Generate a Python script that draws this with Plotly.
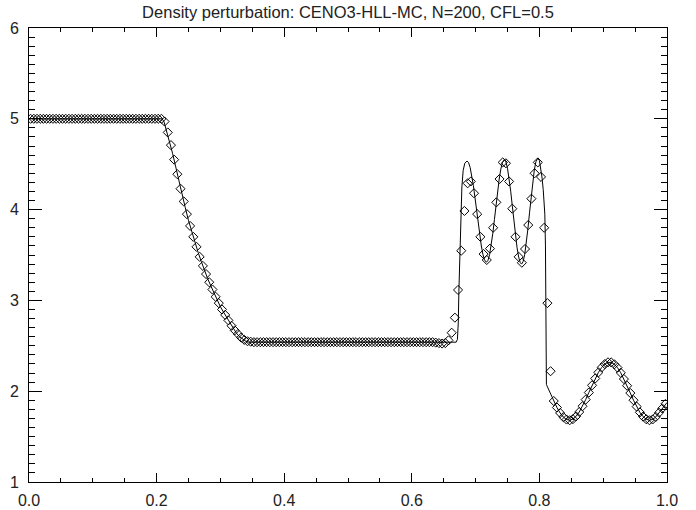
import numpy as np
import plotly.graph_objects as go

title_text = "Density perturbation: CENO3-HLL-MC, N=200, CFL=0.5"
n_cells = 200

# numerical solution (cell values), cells at (i+0.5)/N
rho_num = [
    5.0, 5.0, 5.0, 5.0, 5.0, 5.0, 5.0, 5.0, 5.0, 5.0,
    5.0, 5.0, 5.0, 5.0, 5.0, 5.0, 5.0, 5.0, 5.0, 5.0,
    5.0, 5.0, 5.0, 5.0, 5.0, 5.0, 5.0, 5.0, 5.0, 5.0,
    5.0, 5.0, 5.0, 5.0, 5.0, 5.0, 5.0, 5.0, 5.0, 5.0,
    5.0, 5.0,
    4.97, 4.85, 4.71, 4.55, 4.39, 4.23, 4.09, 3.95, 3.82, 3.70,
    3.59, 3.48, 3.38, 3.29, 3.20, 3.12, 3.04, 2.97, 2.90, 2.84,
    2.78, 2.72, 2.67, 2.63, 2.59, 2.565, 2.55, 2.545,
    2.54, 2.54, 2.54, 2.54, 2.54, 2.54, 2.54, 2.54, 2.54, 2.54,
    2.54, 2.54, 2.54, 2.54, 2.54, 2.54, 2.54, 2.54, 2.54, 2.54,
    2.54, 2.54, 2.54, 2.54, 2.54, 2.54, 2.54, 2.54, 2.54, 2.54,
    2.54, 2.54, 2.54, 2.54, 2.54, 2.54, 2.54, 2.54, 2.54, 2.54,
    2.54, 2.54, 2.54, 2.54, 2.54, 2.54, 2.54, 2.54, 2.54, 2.54,
    2.54, 2.54, 2.54, 2.54, 2.54, 2.54, 2.54, 2.535, 2.53, 2.525,
    2.53,
    2.56, 2.644, 2.81, 3.115, 3.547, 3.985, 4.29, 4.31, 4.18, 3.95,
    3.70, 3.51, 3.445, 3.57, 3.80, 4.08, 4.337, 4.52, 4.51, 4.31,
    4.01, 3.70, 3.48, 3.415, 3.566, 3.83, 4.12, 4.40, 4.52, 4.36,
    3.80, 2.97, 2.22,
    1.892, 1.820, 1.760, 1.715, 1.688, 1.680, 1.692, 1.723, 1.771, 1.834,
    1.907, 1.985, 2.065, 2.140, 2.207, 2.261, 2.299, 2.318, 2.317, 2.296,
    2.259, 2.203, 2.134, 2.060, 1.980, 1.901, 1.830, 1.767, 1.720, 1.691,
    1.680, 1.689, 1.717, 1.763, 1.81, 1.86,
]

# reference (high resolution) solution
x_ref = [
    0.0, 0.2085, 0.2115, 0.2150, 0.2200, 0.2250, 0.2300, 0.2350, 0.2400, 0.2450,
    0.2500, 0.2550, 0.2600, 0.2650, 0.2700, 0.2750, 0.2800, 0.2850, 0.2900, 0.2950,
    0.3000, 0.3050, 0.3100, 0.3150, 0.3200, 0.3250, 0.3300, 0.3350, 0.3400, 0.3450,
    0.40, 0.50, 0.60, 0.650, 0.665, 0.6695,
    0.6715, 0.6728, 0.6738, 0.6752, 0.6768, 0.6785, 0.6805, 0.6830, 0.6865,
    0.689, 0.6915, 0.694, 0.6965, 0.699, 0.7015, 0.704, 0.7065, 0.709, 0.7115, 0.714, 0.717,
    0.7195, 0.722, 0.7245, 0.727, 0.7295, 0.732, 0.7345, 0.737, 0.7395, 0.742, 0.745,
    0.7475, 0.750, 0.7525, 0.755, 0.7575, 0.760, 0.7625, 0.765, 0.7675, 0.770, 0.772,
    0.7745, 0.777, 0.7795, 0.782, 0.7845, 0.787, 0.7895, 0.792, 0.7945, 0.7975,
    0.800, 0.802, 0.804, 0.806, 0.8085, 0.8095, 0.8100, 0.8105, 0.8110, 0.8125,
    0.815, 0.8175, 0.820,
    0.8225, 0.8275, 0.8325, 0.8375, 0.8425, 0.8475, 0.8525, 0.8575, 0.8625, 0.8675,
    0.8725, 0.8775, 0.8825, 0.8875, 0.8925, 0.8975, 0.9025, 0.9075, 0.9125, 0.9175,
    0.9225, 0.9275, 0.9325, 0.9375, 0.9425, 0.9475, 0.9525, 0.9575, 0.9625, 0.9675,
    0.9725, 0.9775, 0.9825, 0.9875, 0.9925, 0.9975, 1.0,
]
rho_ref = [
    5.0, 5.0, 4.97, 4.88, 4.76, 4.62, 4.47, 4.31, 4.16, 4.02,
    3.88, 3.76, 3.64, 3.53, 3.43, 3.33, 3.24, 3.16, 3.08, 3.00,
    2.93, 2.87, 2.81, 2.75, 2.69, 2.64, 2.60, 2.57, 2.55, 2.54,
    2.54, 2.54, 2.54, 2.54, 2.535, 2.54,
    2.57, 2.75, 3.1, 3.55, 3.95, 4.25, 4.43, 4.51, 4.535,
    4.517, 4.463, 4.377, 4.265, 4.134, 3.992, 3.850, 3.715, 3.599, 3.506, 3.446, 3.42,
    3.442, 3.506, 3.608, 3.740, 3.890, 4.048, 4.201, 4.337, 4.445, 4.518, 4.55,
    4.526, 4.455, 4.344, 4.203, 4.042, 3.876, 3.717, 3.579, 3.477, 3.416, 3.40,
    3.427, 3.507, 3.631, 3.788, 3.964, 4.142, 4.304, 4.436, 4.526, 4.565,
    4.54, 4.47, 4.36, 4.22, 3.95, 3.6, 2.9, 2.2, 2.075, 2.049,
    2.009, 1.969, 1.930,
    1.892, 1.820, 1.760, 1.715, 1.688, 1.680, 1.692, 1.723, 1.771, 1.834,
    1.907, 1.985, 2.065, 2.140, 2.207, 2.261, 2.299, 2.318, 2.317, 2.296,
    2.259, 2.203, 2.134, 2.060, 1.980, 1.901, 1.830, 1.767, 1.720, 1.691,
    1.680, 1.689, 1.717, 1.763, 1.815, 1.862, 1.875,
]

x_num = (np.arange(n_cells) + 0.5) / n_cells

x_tickvals = [0.0, 0.2, 0.4, 0.6, 0.8, 1.0]
x_ticktext = ["0.0", "0.2", "0.4", "0.6", "0.8", "1.0"]
y_tickvals = [1, 2, 3, 4, 5, 6]
y_ticktext = ["1", "2", "3", "4", "5", "6"]

fig = go.Figure()
fig.add_trace(go.Scatter(x=x_ref, y=rho_ref, mode="lines",
                         line=dict(color="black", width=1), hoverinfo="skip"))
fig.add_trace(go.Scatter(x=x_num, y=rho_num, mode="markers",
                         marker=dict(symbol="diamond-open", size=7,
                                     color="black", line=dict(color="black", width=1))))

font_family = "Liberation Sans, Arial, sans-serif"
fig.update_layout(
    width=696, height=510,
    margin=dict(l=29, r=29, t=28, b=28, autoexpand=False),
    paper_bgcolor="white", plot_bgcolor="white",
    showlegend=False,
    font=dict(family=font_family, size=16, color="#222222"),
    title=dict(text=title_text, x=0.5, xanchor="center", xref="paper",
               y=1 - 12 / 510, yanchor="middle", yref="container",
               font=dict(family=font_family, size=16.5, color="#222222")),
)
fig.update_xaxes(
    range=[0, 1], tickmode="array", tickvals=x_tickvals, ticktext=x_ticktext,
    ticks="inside", ticklen=9, tickwidth=1, tickcolor="black",
    minor=dict(tickmode="linear", tick0=0, dtick=0.05, ticks="inside",
               ticklen=4, tickwidth=1, tickcolor="black"),
    showline=True, linecolor="black", linewidth=1, mirror="ticks",
    showgrid=False, zeroline=False, ticklabelstandoff=4, automargin=False,
)
fig.update_yaxes(
    range=[1, 6], tickmode="array", tickvals=y_tickvals, ticktext=y_ticktext,
    ticks="inside", ticklen=13, tickwidth=1, tickcolor="black",
    minor=dict(tickmode="linear", tick0=0, dtick=0.1, ticks="inside",
               ticklen=6, tickwidth=1, tickcolor="black"),
    showline=True, linecolor="black", linewidth=1, mirror="ticks",
    showgrid=False, zeroline=False, ticklabelstandoff=6, automargin=False,
)

fig.write_html("out.html", config={"displayModeBar": False},
               post_script="document.body.style.margin='0';document.body.style.padding='0';")
